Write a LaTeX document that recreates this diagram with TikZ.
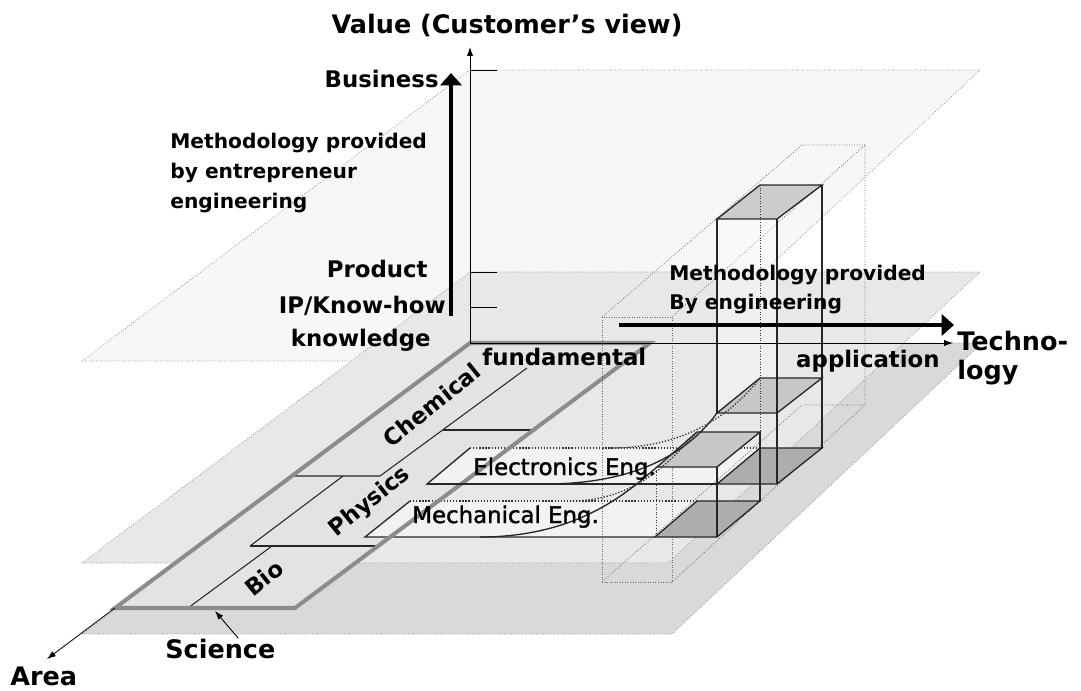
\documentclass[tikz,border=0pt]{standalone}
\usepackage{fontspec}
\setmainfont{DejaVu Sans}
\newfontfamily\engfont[FakeBold=1.5]{DejaVu Sans}
\usetikzlibrary{arrows.meta}

\tikzset{
  plane/.style={densely dotted, draw=black!50, line width=0.4pt},
  ghost/.style={densely dotted, draw=black!60, line width=0.45pt},
  edge/.style={draw=black!85, line width=0.75pt},
  hidden/.style={densely dotted, draw=black!80, line width=0.75pt},
  axis/.style={draw=black, line width=0.5pt, -{Latex[length=5pt,width=3.5pt]}},
  bigarrow/.style={draw=black, line width=2.8pt, -{Triangle[length=7pt,width=12pt]}},
  lab/.style={font=\bfseries\fontsize{13}{15}\selectfont, inner sep=0pt},
  biglab/.style={font=\bfseries\fontsize{14.5}{16.5}\selectfont, inner sep=0pt},
  note/.style={font=\bfseries\fontsize{11.5}{17}\selectfont, inner sep=0pt, align=left},
  eng/.style={font=\engfont\fontsize{13}{15}\selectfont, inner sep=0pt},
  sci/.style={draw=black!45, line width=2.3pt, line join=miter},
}

\begin{document}
\begin{tikzpicture}[x=0.02cm, y=-0.02cm]
		%%%%% START %%%%%
		\useasboundingbox (0,0) rectangle (1081,690);
		
		% value levels
		\filldraw[plane, fill=black!3] (470,70) -- (980,70) -- (668,361) -- (82,361) -- cycle;
		\filldraw[plane, fill=black!15] (470,343) -- (982,343) -- (672,634) -- (82,634) -- cycle;
		\filldraw[plane, fill=black!9] (470,272) -- (980,272) -- (668,563) -- (82,563) -- cycle;
		
		% science
		\fill[black!11] (470,343) -- (650,343) -- (295,608) -- (115,608) -- cycle;
		\draw[edge, line width=0.6pt] (188,608) -- (272,546);
		\draw[edge, line width=0.6pt] (250,546) -- (378,546);
		\draw[edge, line width=0.6pt] (250,546) -- (343,476);
		\draw[edge, line width=0.6pt] (293,476) -- (380,476) -- (527,368);
		\draw[edge, line width=0.6pt] (443,430) -- (533,430);
		
		% engineering sheets
		\fill[black!5] (427,484) -- (470,448) -- (760,448) -- (717,484) -- cycle;
		\draw[edge] (717,484) -- (427,484) -- (470,448);
		\draw[hidden] (470,448) -- (760,448);
		\fill[black!5] (365,537) -- (410,501) -- (697,501) -- (655,537) -- cycle;
		\draw[edge] (655,537) -- (365,537) -- (410,501);
		\draw[hidden] (410,501) -- (697,501);
		
		\draw[sci] (470,343) -- (650,343) -- (295,608) -- (115,608) -- cycle;
		
		% transparent box
		\draw[ghost] (602,317) rectangle (672,582);
		\draw[ghost] (602,317) -- (802,145) -- (865,145) -- (865,405) -- (802,405);
		\draw[ghost] (672,317) -- (865,145);
		\draw[ghost] (672,582) -- (865,405);
		\draw[ghost] (602,582) -- (802,405);
		
		% tall box
		\fill[white, opacity=0.35] (717,219) rectangle (777,413);
		\filldraw[edge, fill=black!20] (717,219) -- (777,219) -- (822,185) -- (760,185) -- cycle;
		\filldraw[edge, fill=black!22] (717,413) -- (777,413) -- (822,378) -- (760,378) -- cycle;
		\filldraw[edge, fill=black!32] (717,484) -- (777,484) -- (822,448) -- (760,448) -- cycle;
		\draw[edge] (717,219) -- (717,413);
		\draw[edge] (777,219) -- (777,484);
		\draw[edge] (822,185) -- (822,448);
		\draw[hidden, line width=0.5pt] (760,185) -- (760,448);
		
		% small box
		\filldraw[edge, fill=black!22] (657,467) -- (717,467) -- (760,432) -- (697,432) -- cycle;
		\filldraw[edge, fill=black!32] (655,537) -- (717,537) -- (760,501) -- (697,501) -- cycle;
		\draw[edge] (717,467) -- (717,537);
		\draw[edge] (760,432) -- (760,501);
		\draw[hidden, line width=0.5pt] (656,467) -- (656,537);
		\draw[edge] (427,484) -- (717,484);
		
		% ramps
		\draw[edge] (545,484) .. controls (640,484) and (690,450) .. (717,413);
		\draw[hidden] (610,448) .. controls (690,448) and (735,410) .. (760,378);
		\draw[edge] (480,537) .. controls (580,537) and (630,490) .. (657,467);
		\draw[hidden] (570,501) .. controls (640,501) and (675,455) .. (697,432);
		
		% axes
		\coordinate (O) at (470,343);
		\coordinate (vtip) at (470,47);
		\coordinate (htip) at (953,343);
		\coordinate (atip) at (47,659);
		\draw[axis] (O) -- (vtip);
		\draw[axis] (O) -- (htip);
		\draw[axis] (115,608) -- (atip);
		\foreach \y in {70,272,307}
			\draw[line width=0.5pt] (470,\y) -- (497,\y);
		
		\coordinate (upfrom) at (451,316);
		\coordinate (upto) at (451,73);
		\coordinate (rightfrom) at (619,325);
		\coordinate (rightto) at (954,325);
		\draw[bigarrow] (upfrom) -- (upto);
		\draw[bigarrow] (rightfrom) -- (rightto);
		
		% labels
		\node[biglab, anchor=base] (value) at (507,33) {Value (Customer's view)};
		\node[lab, anchor=base east] (business) at (439,87) {Business};
		\node[note, anchor=north west] (entre) at (170,133) {Methodology provided\\by entrepreneur\\engineering};
		\node[lab, anchor=base east] (product) at (428,277) {Product};
		\node[lab, anchor=base east] (iphow) at (446,313) {IP/Know-how};
		\node[lab, anchor=base east] (knowledge) at (431,346) {knowledge};
		\node[note, anchor=north west, font=\bfseries\fontsize{11.5}{16.5}\selectfont] (engmeth) at (669,265) {Methodology provided\\By engineering};
		\node[lab, anchor=base west] (fund) at (482,365) {fundamental};
		\node[lab, anchor=base east] (appl) at (940,367) {application};
		\node[biglab, anchor=north west, align=left] (techno) at (957,331) {Techno-\\logy};
		
		\node[lab, rotate=39] (chem) at (432,405) {Chemical};
		\node[lab, rotate=39] (phys) at (370,502) {Physics};
		\node[lab, rotate=39] (bio) at (264,578) {Bio};
		\node[eng, anchor=base west] (elec) at (473,475) {Electronics Eng.};
		\node[eng, anchor=base west] (mech) at (412,523) {Mechanical Eng.};
		
		\node[biglab, anchor=base west] (science) at (165,658) {Science};
		\node[biglab, anchor=base west] (area) at (10,685) {Area};
		\coordinate (scitip) at (215,611);
		\draw[axis] (science.north) ++(18,0) -- (scitip);
		
		%%%%% END %%%%%
\end{tikzpicture}
\end{document}
